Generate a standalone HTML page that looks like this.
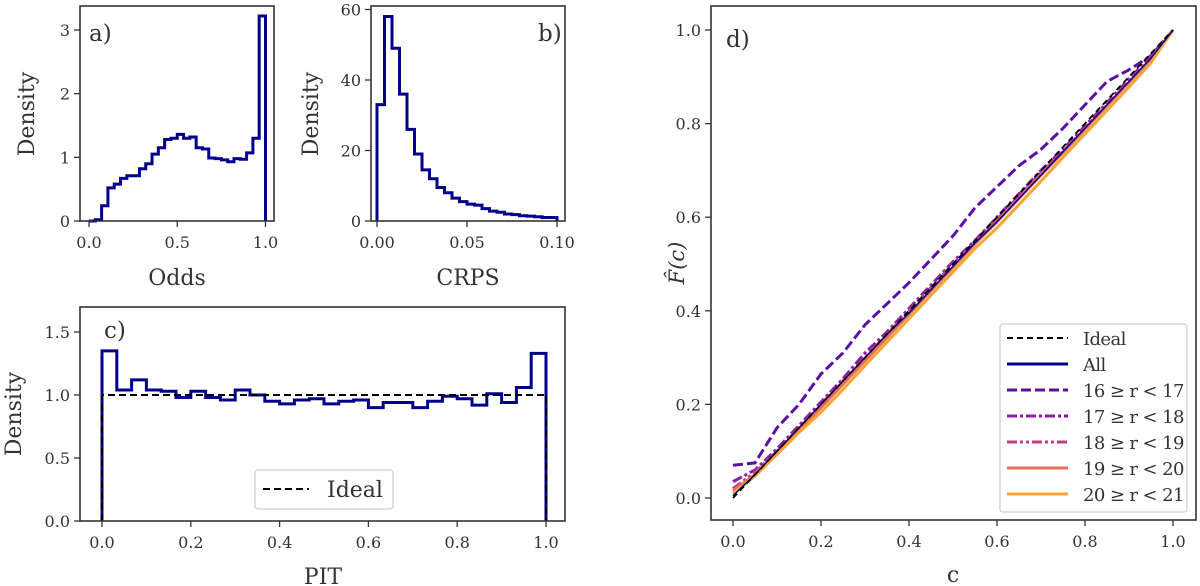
<!DOCTYPE html>
<html><head><meta charset="utf-8"><style>
html,body{margin:0;padding:0;background:#fff;}
svg{display:block;font-family:"DejaVu Serif","Liberation Serif",serif;}
</style></head><body>
<svg id="fig" width="1200" height="586" viewBox="0 0 1200 586" xmlns="http://www.w3.org/2000/svg"></svg>
<script>
// ---------- data ----------
const oddsDensity = [0.0,0.02,0.24,0.52,0.58,0.67,0.71,0.71,0.82,0.9,1.05,1.15,1.28,1.30,1.36,1.30,1.32,1.15,1.13,0.99,0.98,0.96,0.93,0.98,0.97,1.07,1.30,3.22];
const crpsDensity = [33,58,49,36,26,19,14.5,12,9.5,8,6.5,5.5,4.8,4.5,3.5,2.8,2.5,2.0,1.8,1.5,1.4,1.2,1.0,1.0];
const pitDensity = [1.35,1.04,1.12,1.04,1.03,0.98,1.03,0.98,0.96,1.04,1.00,0.95,0.93,0.96,0.97,0.93,0.95,0.96,0.90,0.94,0.94,0.90,0.95,0.99,0.97,0.92,1.01,0.94,1.06,1.33];
const cGrid = [0,0.05,0.1,0.15,0.2,0.25,0.3,0.35,0.4,0.45,0.5,0.55,0.6,0.65,0.7,0.75,0.8,0.85,0.9,0.95,1.0];
const fIdeal = [0,0.05,0.1,0.15,0.2,0.25,0.3,0.35,0.4,0.45,0.5,0.55,0.6,0.65,0.7,0.75,0.8,0.85,0.9,0.95,1.0];
const fAll = [0.005,0.05,0.1,0.15,0.2,0.25,0.3,0.35,0.395,0.445,0.495,0.545,0.59,0.64,0.69,0.74,0.79,0.84,0.89,0.94,1.0];
const f16 = [0.07,0.075,0.15,0.2,0.265,0.31,0.37,0.415,0.46,0.51,0.56,0.62,0.665,0.71,0.745,0.79,0.84,0.89,0.915,0.945,1.0];
const f17 = [0.035,0.06,0.105,0.155,0.205,0.255,0.31,0.355,0.405,0.455,0.505,0.55,0.6,0.65,0.7,0.745,0.795,0.845,0.895,0.945,1.0];
const f18 = [0.02,0.055,0.1,0.15,0.2,0.25,0.3,0.35,0.4,0.45,0.5,0.545,0.595,0.645,0.695,0.74,0.79,0.84,0.89,0.94,1.0];
const f19 = [0.015,0.05,0.097,0.145,0.193,0.243,0.293,0.343,0.393,0.443,0.493,0.543,0.59,0.64,0.69,0.738,0.788,0.838,0.888,0.938,1.0];
const f20 = [0.01,0.047,0.093,0.14,0.183,0.232,0.283,0.333,0.383,0.433,0.483,0.533,0.577,0.627,0.677,0.728,0.778,0.828,0.878,0.93,1.0];
const aTicksX = [0,0.5,1.0], aTicksY = [0,1,2,3];
const bTicksX = [0,0.05,0.10], bTicksY = [0,20,40,60];
const cTicksX = [0,0.2,0.4,0.6,0.8,1.0], cTicksY = [0,0.5,1.0,1.5];
const dTicksX = [0,0.2,0.4,0.6,0.8,1.0], dTicksY = [0,0.2,0.4,0.6,0.8,1.0];

const NS="http://www.w3.org/2000/svg";
const svg=document.getElementById('fig');
function mk(tag,attrs,parent){const e=document.createElementNS(NS,tag);for(const k in attrs)e.setAttribute(k,attrs[k]);(parent||svg).appendChild(e);return e;}
function lin(d0,d1,r0,r1){return v=>r0+(v-d0)/(d1-d0)*(r1-r0);}

function axes(name,box,sx,sy,tx,ty,fx,fy){
  const g=mk('g',{});
  
  
  tx.forEach(v=>{const x=sx(v);
    const t=mk('line',{x1:x,x2:x,y1:box.b,y2:box.b+6,stroke:'#333','stroke-width':1.3},g);
    
    const l=mk('text',{x:x,y:box.b+27,'text-anchor':'middle','font-size':16,fill:'#333'},g);
    
    l.textContent=fx(v);});
  ty.forEach(v=>{const y=sy(v);
    const t=mk('line',{x1:box.l-6,x2:box.l,y1:y,y2:y,stroke:'#333','stroke-width':1.3},g);
    
    const l=mk('text',{x:box.l-10,y:y+6,'text-anchor':'end','font-size':16,fill:'#333'},g);
    
    l.textContent=fy(v);});
  return g;
}
function frame(box){const r=mk('rect',{x:box.l,y:box.t,width:box.r-box.l,height:box.b-box.t,fill:'none',stroke:'#333','stroke-width':1.6});
  }
function hist(vals,x0,x1,sx,sy,name){
  const w=(x1-x0)/vals.length;let d=`M${sx(x0)},${sy(0)}`;
  vals.forEach((v,i)=>{d+=` L${sx(x0+i*w)},${sy(v)} L${sx(x0+(i+1)*w)},${sy(v)}`;});
  d+=` L${sx(x1)},${sy(0)}`;
  const p=mk('path',{d:d,fill:'none',stroke:'#00008b','stroke-width':3,'stroke-linejoin':'miter'});
  
}
function txt(s,attrs,name){const t=mk('text',Object.assign({fill:'#333'},attrs));t.textContent=s;
  return t;}
const f1=v=>v.toFixed(1), f0=v=>String(v), f2=v=>v.toFixed(2);

// ---------- panel a ----------
{const box={l:80,r:274,t:6,b:221};const sx=lin(0,1,89,265.5),sy=lin(0,3,221,30);
 axes('panel-a-axes',box,sx,sy,aTicksX,aTicksY,f1,f0);hist(oddsDensity,0,1,sx,sy,'odds-histogram');frame(box);
 txt('a)',{x:89,y:41,'font-size':23},'panel-a-label');
 txt('Odds',{x:177,y:285,'text-anchor':'middle','font-size':22},'x-axis-title-odds');
 txt('Density',{x:0,y:0,transform:'translate(34,114) rotate(-90)','text-anchor':'middle','font-size':22},'y-axis-title-a');}
// ---------- panel b ----------
{const box={l:371,r:565,t:6,b:221};const sx=lin(0,0.1,377,557),sy=lin(0,60,221,9.5);
 axes('panel-b-axes',box,sx,sy,bTicksX,bTicksY,f2,f0);hist(crpsDensity,0,0.1,sx,sy,'crps-histogram');frame(box);
 txt('b)',{x:538,y:41,'font-size':23},'panel-b-label');
 txt('CRPS',{x:468,y:285,'text-anchor':'middle','font-size':22},'x-axis-title-crps');
 txt('Density',{x:0,y:0,transform:'translate(318,114) rotate(-90)','text-anchor':'middle','font-size':22},'y-axis-title-b');}
// ---------- panel c ----------
{const box={l:80,r:565,t:307,b:521};const sx=lin(0,1,102,546),sy=lin(0,1.5,521,332);
 axes('panel-c-axes',box,sx,sy,cTicksX,cTicksY,f1,f1);hist(pitDensity,0,1,sx,sy,'pit-histogram');
 const il=mk('path',{d:`M${sx(0)},${sy(0)} L${sx(0)},${sy(1)} L${sx(1)},${sy(1)} L${sx(1)},${sy(0)}`,fill:'none',stroke:'#000','stroke-width':2,'stroke-dasharray':'7,4'});
 
 frame(box);
 txt('c)',{x:104,y:338,'font-size':23},'panel-c-label');
 txt('PIT',{x:323,y:584,'text-anchor':'middle','font-size':22},'x-axis-title-pit');
 txt('Density',{x:0,y:0,transform:'translate(21,414) rotate(-90)','text-anchor':'middle','font-size':22},'y-axis-title-c');
 const lg=mk('g',{});
 mk('rect',{x:255,y:470,width:138,height:39,rx:3,fill:'#fff',stroke:'#ccc','stroke-width':1.2},lg);
 mk('line',{x1:263,x2:309,y1:489,y2:489,stroke:'#000','stroke-width':2,'stroke-dasharray':'7,4'},lg);
 const t=mk('text',{x:327,y:497,'font-size':22,fill:'#333'},lg);t.textContent='Ideal';}
// ---------- panel d ----------
{const box={l:711,r:1196,t:6,b:520};const sx=lin(0,1,733,1173),sy=lin(0,1,498,30);
 axes('panel-d-axes',box,sx,sy,dTicksX,dTicksY,f1,f1);
 const series=[
  {n:'curve-16-17',v:f16,c:'#5c0fa3',w:3,da:'10,4'},
  {n:'curve-17-18',v:f17,c:'#8e1aa6',w:3,da:'10,3,3,3'},
  {n:'curve-18-19',v:f18,c:'#c43e7f',w:3,da:'10,3,3,3,3,3'},
  {n:'curve-19-20',v:f19,c:'#e8705a',w:3,da:''},
  {n:'curve-20-21',v:f20,c:'#fca534',w:3,da:''},
  {n:'curve-all',v:fAll,c:'#00008b',w:1.5,da:''},
  {n:'curve-ideal',v:fIdeal,c:'#000',w:1.8,da:'6,4'}];
 series.forEach(s=>{const d=s.v.map((y,i)=>(i?'L':'M')+sx(cGrid[i])+','+sy(y)).join(' ');
   const p=mk('path',{d:d,fill:'none',stroke:s.c,'stroke-width':s.w,'stroke-dasharray':s.da});
   });
 frame(box);
 txt('d)',{x:726,y:47,'font-size':23},'panel-d-label');
 txt('c',{x:953,y:582,'text-anchor':'middle','font-size':22},'x-axis-title-c');
 txt('F̂(c)',{x:0,y:0,transform:'translate(684,263) rotate(-90)','text-anchor':'middle','font-size':21,'font-style':'italic'},'y-axis-title-d');
 const lg=mk('g',{});
 mk('rect',{x:1000,y:324,width:187,height:188,rx:3,fill:'#fff','fill-opacity':0.85,stroke:'#ccc','stroke-width':1.2},lg);
 const ent=[['Ideal','#000',2,'6,4'],['All','#00008b',3,''],['16 ≥ r < 17','#5c0fa3',3,'10,4'],['17 ≥ r < 18','#8e1aa6',3,'10,3,3,3'],['18 ≥ r < 19','#c43e7f',3,'10,3,3,3,3,3'],['19 ≥ r < 20','#e8705a',3,''],['20 ≥ r < 21','#fca534',3,'']];
 ent.forEach((e,i)=>{const y=338+i*26;
   const gi=mk('g',{},lg);
   mk('line',{x1:1007,x2:1068,y1:y,y2:y,stroke:e[1],'stroke-width':e[2],'stroke-dasharray':e[3]},gi);
   const t=mk('text',{x:1083,y:y+7,'font-size':18,'letter-spacing':-0.6,fill:'#333'},gi);t.textContent=e[0];});}
</script>
</body></html>
